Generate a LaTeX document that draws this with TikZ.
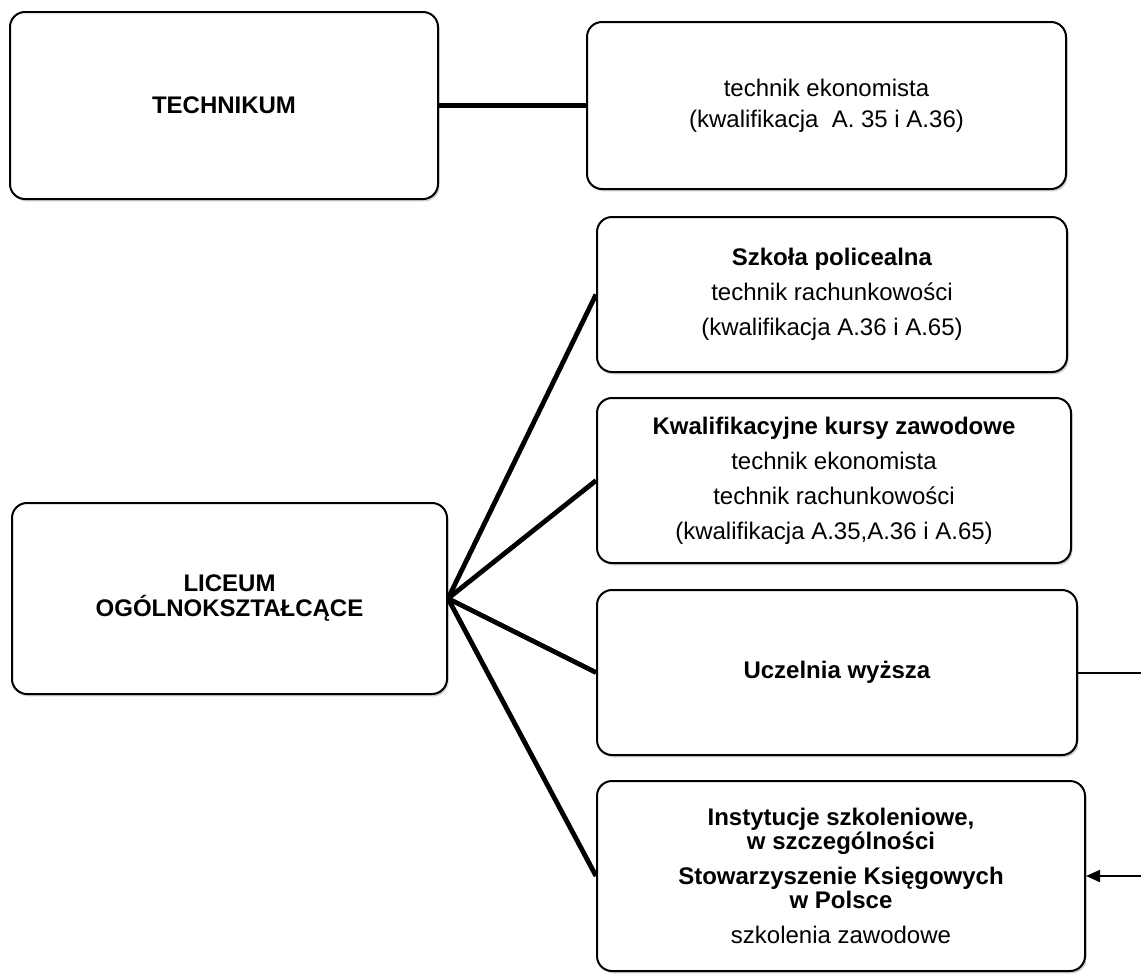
\documentclass[tikz,border=0pt]{standalone}
\usepackage{fontspec}
\setmainfont{Liberation Sans}
\usetikzlibrary{arrows.meta,shadows}

\begin{document}
\begin{tikzpicture}[x=0.5pt,y=-0.5pt,
  blok/.style={draw=black,line width=1pt,rounded corners=7.5pt,fill=white,
    align=center,inner sep=0pt,font=\fontsize{12}{17.5}\selectfont,
    drop shadow={shadow xshift=0.8pt,shadow yshift=-1.2pt,fill=black!40,opacity=0.45}},
  gruba/.style={line width=2.4pt},
  cienka/.style={line width=1pt}]
\path[use as bounding box] (0,0) rectangle (1141,976);
\fill[white] (0,0) rectangle (1141,976);
% lewa kolumna
\node[blok,minimum width=214pt,minimum height=93.5pt] (tech) at (224,105.5) {\textbf{TECHNIKUM}};
\node[blok,minimum width=217.5pt,minimum height=95.5pt,font=\fontsize{12}{12.5}\selectfont] (liceum) at (229.5,598.5)
  {\textbf{LICEUM}\\\textbf{OGÓLNOKSZTAŁCĄCE}};
% prawa kolumna
\node[blok,minimum width=239.5pt,minimum height=83.5pt,font=\fontsize{12}{15.5}\selectfont] (ekon) at (826.5,105.5)
  {technik ekonomista\\(kwalifikacja~~A. 35 i A.36)};
\node[blok,minimum width=235pt,minimum height=77.5pt] (polic) at (832,294.5)
  {\textbf{Szkoła policealna}\\technik rachunkowości\\(kwalifikacja A.36 i A.65)};
\node[blok,minimum width=237pt,minimum height=82.5pt] (kursy) at (834,480.5)
  {\textbf{Kwalifikacyjne kursy zawodowe}\\technik ekonomista\\technik rachunkowości\\(kwalifikacja A.35,A.36 i A.65)};
\node[blok,minimum width=240pt,minimum height=82.5pt] (uczel) at (837,672.5)
  {\textbf{Uczelnia wyższa}};
\node[blok,minimum width=244pt,minimum height=95pt,font=\fontsize{12}{12.2}\selectfont] (instyt) at (841,876)
  {\textbf{Instytucje szkoleniowe,}\\\textbf{w szczególności}\\[5.3pt]
   \textbf{Stowarzyszenie Księgowych}\\\textbf{w Polsce}\\[5.3pt]szkolenia zawodowe};
\coordinate (brzeg1) at (1141,672.5);
\coordinate (brzeg2) at (1141,876);
% polaczenia
\draw[gruba] (tech.east) -- (ekon.west);
\foreach \cel in {polic,kursy,uczel,instyt}
  \draw[gruba] (liceum.east) -- (\cel.west);
\draw[cienka] (uczel.east) -- (brzeg1);
\draw[cienka,-{Triangle[length=7pt,width=6pt]}] (brzeg2) -- (instyt.east);
\end{tikzpicture}
\end{document}
